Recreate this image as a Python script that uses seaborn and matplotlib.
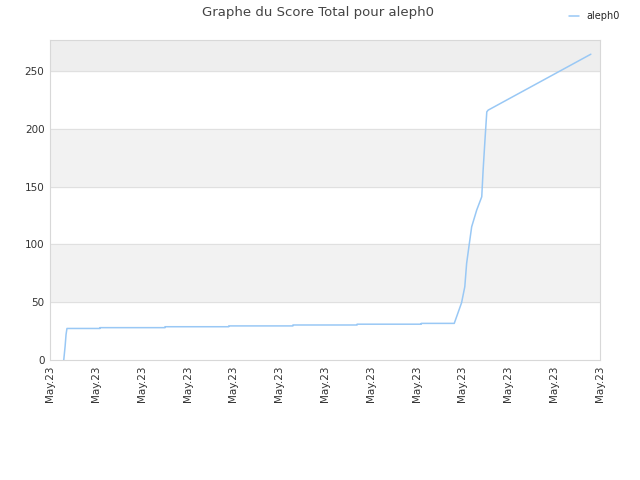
import seaborn as sns
import matplotlib
matplotlib.use("Agg")
import matplotlib.pyplot as plt
import pandas as pd

# score over time (x in tick units, 12 intervals all labelled May.23)
x_vals = [0.30, 0.33, 0.35, 0.37, 1.09, 1.09, 2.51, 2.51, 3.90, 3.90, 5.30, 5.30,
          6.70, 6.70, 8.10, 8.10, 8.82, 8.98, 9.05, 9.09, 9.15, 9.20, 9.31, 9.42,
          9.45, 9.49, 9.53, 9.56, 11.80]
y_vals = [0, 12, 22, 27.3, 27.3, 28, 28, 28.8, 28.8, 29.5, 29.5, 30.3,
          30.3, 31, 31, 31.7, 31.7, 49.6, 63.4, 83.6, 101, 115.3, 129.8, 141.3,
          164.4, 190.3, 214.8, 216.3, 264.7]
tick_pos = list(range(13))
tick_labels = ["May.23"] * 13
y_ticks = [0, 50, 100, 150, 200, 250]

df = pd.DataFrame({"x": x_vals, "score": y_vals, "joueur": "aleph0"})

sns.set_style("white")
plt.rcParams['font.family'] = ['DejaVu Sans']

fig = plt.figure(figsize=(6.4, 4.8), dpi=100)
ax = fig.add_axes([50/640, 120/480, 550/640, 320/480])

# alternating background bands
ax.axhspan(50, 100, color="#f2f2f2", zorder=0)
ax.axhspan(150, 200, color="#f2f2f2", zorder=0)
ax.axhspan(250, 277, color="#eeeeee", zorder=0)
for yv in y_ticks[1:]:
    ax.axhline(yv, color="#e0e0e0", lw=0.8, zorder=1)

sns.lineplot(data=df, x="x", y="score", color="#99c8f5", lw=1.1, ax=ax,
             sort=False, estimator=None, label="aleph0", legend=False, zorder=3)

ax.set_xlim(0, 12)
ax.set_ylim(0, 277)
ax.set_xticks(tick_pos)
ax.set_xticklabels(tick_labels, rotation=90, fontsize=7.5, color="#333333")
ax.set_yticks(y_ticks)
ax.set_yticklabels([str(v) for v in y_ticks], fontsize=7.5, color="#333333")
ax.tick_params(length=0, pad=4)
ax.set_xlabel("")
ax.set_ylabel("")
for s in ax.spines.values():
    s.set_color("#d8d8d8")
    s.set_linewidth(0.8)

fig.suptitle("Graphe du Score Total pour aleph0", x=318/640, y=0.987,
             fontsize=9.5, color="#444444")
fig.legend(handles=ax.get_lines()[-1:], labels=["aleph0"], loc="upper right",
           bbox_to_anchor=(0.982, 0.995), frameon=False, fontsize=7,
           handlelength=1.0, handletextpad=0.8)

fig.savefig("out.png", dpi=100)
